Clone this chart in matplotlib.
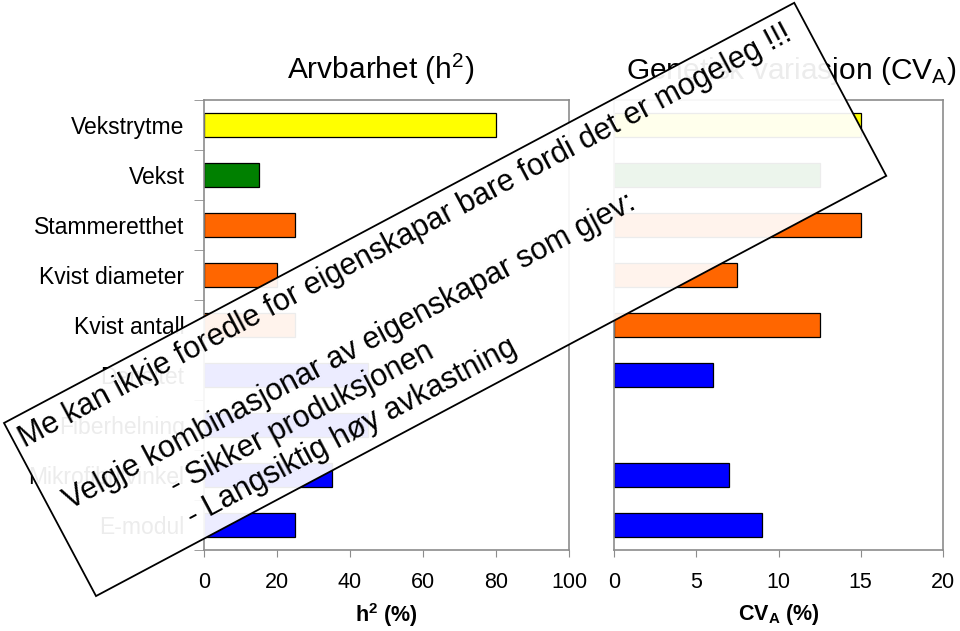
import numpy as np
import matplotlib
matplotlib.use('Agg')
import matplotlib.pyplot as plt
from matplotlib.patches import Rectangle
from matplotlib.transforms import Affine2D

plt.rcParams['font.family'] = ['Liberation Sans', 'DejaVu Sans']
plt.rcParams['mathtext.fontset'] = 'custom'
plt.rcParams['mathtext.rm'] = 'Liberation Sans'
plt.rcParams['mathtext.it'] = 'Liberation Sans'
plt.rcParams['mathtext.bf'] = 'Liberation Sans:bold'

# data
categories = ['Vekstrytme', 'Vekst', 'Stammeretthet', 'Kvist diameter', 'Kvist antall',
              'Densitet', 'Fiberhelning', 'Mikrofibrilvinkel', 'E-modul']
h2 = [80, 15, 25, 20, 25, 45, 45, 35, 25]
cva = [15, 12.5, 15, 7.5, 12.5, 6, np.nan, 7, 9]
colors = ['#FFFF00', '#008000', '#FF6600', '#FF6600', '#FF6600',
          '#0000FF', '#0000FF', '#0000FF', '#0000FF']
h2_ticks = [0, 20, 40, 60, 80, 100]
cva_ticks = [0, 5, 10, 15, 20]
note_lines = ['Me kan ikkje foredle for eigenskapar bare fordi det er mogeleg !!!',
              'Velgje kombinasjonar av eigenskapar som gjev:',
              '- Sikker produksjonen',
              '- Langsiktig høy avkastning']

W, H = 960, 631
fig = plt.figure(figsize=(W / 100, H / 100), dpi=100)
ax1 = fig.add_axes([204 / W, 1 - 550 / H, 365 / W, 450 / H])
ax2 = fig.add_axes([614 / W, 1 - 550 / H, 329 / W, 450 / H])

y = np.arange(len(categories))
grey = '#8c8c8c'
for ax, vals, ticks in [(ax1, h2, h2_ticks), (ax2, cva, cva_ticks)]:
    ax.barh(y, vals, height=0.48, color=colors, edgecolor='black', linewidth=0.9)
    ax.set_ylim(len(categories) - 0.5, -0.5)
    ax.set_xlim(ticks[0], ticks[-1])
    ax.set_xticks(ticks)
    ax.tick_params(axis='x', direction='out', length=5, color=grey, labelsize=15.5, pad=11)
    for s in ax.spines.values():
        s.set_color(grey)
        s.set_linewidth(1.2)

ax1.set_yticks(y)
ax1.set_yticklabels(categories, fontsize=16.5)
ax1.tick_params(axis='y', which='major', length=0, pad=14)
ax1.set_yticks(np.arange(len(categories) + 1) - 0.5, minor=True)
ax1.tick_params(axis='y', which='minor', length=7, color=grey, direction='out')
ax2.set_yticks([])

ax1.set_title('Arvbarhet (h$^2$)', fontsize=21.5, pad=15, x=0.485)
ax2.set_title('Genetisk variasjon (CV$_\\mathrm{A}$)', fontsize=21.5, pad=15, x=0.538)
ax1.set_xlabel('$\\mathbf{h^2}$ (%)', fontsize=15.5, fontweight='bold', labelpad=6)
ax2.set_xlabel('$\\mathbf{CV_A}$ (%)', fontsize=15.5, fontweight='bold', labelpad=6)

# rotated note box laid over the chart
ang = 28
ox, oy = 4, H - 423
place = Affine2D().rotate_deg(ang).translate(ox, oy)
to_fig = Affine2D().scale(1 / W, 1 / H) + fig.transFigure
box = Rectangle((0, -196), 895, 196, transform=place + to_fig,
                facecolor=(1, 1, 1, 0.93), edgecolor='black', linewidth=1.3, zorder=10)
fig.add_artist(box)

line_pos = [(7, 32), (17, 107), (118, 144), (118, 179)]
for txt, (u, v) in zip(note_lines, line_pos):
    px, py = place.transform((u, -v))
    fig.text(px / W, py / H, txt, rotation=ang, rotation_mode='anchor',
             ha='left', va='baseline', fontsize=22, zorder=11)

fig.savefig('out.png', dpi=100)
